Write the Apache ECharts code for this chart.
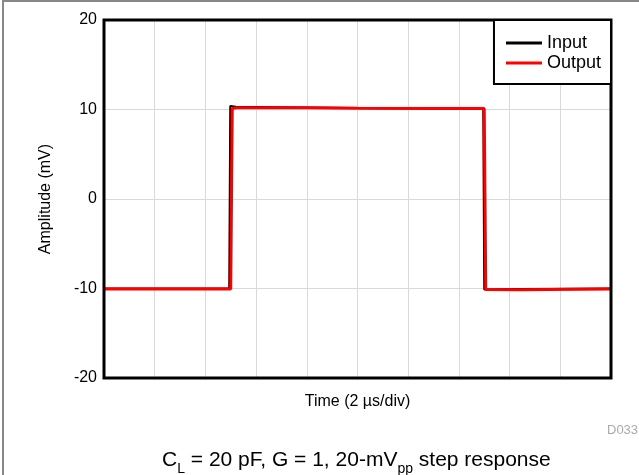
<!DOCTYPE html>
<html>
<head>
<meta charset="utf-8">
<script src="https://cdn.jsdelivr.net/npm/echarts@6/dist/echarts.min.js"></script>
<style>
  html, body { margin: 0; padding: 0; background: #fff; }
  #main { width: 639px; height: 475px; }
</style>
</head>
<body>
<div id="main"></div>
<script>
// time in divisions (2 us/div), amplitude in mV
var inputData = [[0, -10], [2.47, -10], [2.49, 10.4], [2.6, 10.3], [3.5, 10.25], [4.5, 10.2], [5.5, 10.15], [6.5, 10.1], [7.48, 10.1], [7.5, -10.1], [8.2, -10.05], [10, -10]];
var outputData = [[0, -10.05], [2.5, -10.05], [2.53, 10.1], [2.6, 10.2], [4, 10.2], [5, 10.15], [6.5, 10.1], [7.5, 10.1], [7.53, -10.1], [8.2, -10.15], [10, -10.05]];
var yTicks = [-20, -10, 0, 10, 20];
var seriesNames = ['Input', 'Output'];

var myChart = echarts.init(document.getElementById('main'));
var font = '"Liberation Sans", Arial, Helvetica, sans-serif';

var option = {
    animation: false,
    textStyle: { fontFamily: font },
    grid: {
        left: 104, top: 20, right: 28, bottom: 97
    },
    legend: {
        data: seriesNames,
        orient: 'vertical',
        right: 28,
        top: 20,
        icon: 'rect',
        itemWidth: 36,
        itemHeight: 3,
        itemGap: 2,
        padding: [14, 10, 12, 12],
        borderColor: '#000',
        borderWidth: 2,
        backgroundColor: '#fff',
        z: 10,
        textStyle: { fontSize: 18, color: '#000', fontFamily: font }
    },
    xAxis: {
        type: 'value',
        min: 0, max: 10, interval: 1,
        name: 'Time (2 µs/div)',
        nameLocation: 'middle',
        nameGap: 16,
        nameTextStyle: { fontSize: 16, color: '#000' },
        axisLine: { show: false },
        axisTick: { show: false },
        axisLabel: { show: false },
        splitLine: { lineStyle: { color: '#d9d9d9', width: 1 } }
    },
    yAxis: {
        type: 'value',
        min: yTicks[0], max: yTicks[yTicks.length - 1], interval: 10,
        name: 'Amplitude (mV)',
        nameLocation: 'middle',
        nameGap: 50,
        nameTextStyle: { fontSize: 16, color: '#000' },
        axisLine: { show: false },
        axisTick: { show: false },
        axisLabel: { fontSize: 16, color: '#000', margin: 7 },
        splitLine: { lineStyle: { color: '#d9d9d9', width: 1 } }
    },
    series: [
        {
            name: 'Input',
            type: 'line',
            data: inputData,
            showSymbol: false,
            color: '#000',
            lineStyle: { color: '#000', width: 2 }
        },
        {
            name: 'Output',
            type: 'line',
            data: outputData,
            showSymbol: false,
            color: '#ff0000',
            lineStyle: { color: '#ff0000', width: 3 }
        }
    ],
    graphic: [
        {
            type: 'rect',
            shape: { x: 3, y: 1, width: 700, height: 600 },
            style: { fill: 'none', stroke: '#888', lineWidth: 2 },
            silent: true
        },
        {
            type: 'rect',
            shape: { x: 104, y: 20, width: 507, height: 358 },
            style: { fill: 'none', stroke: '#000', lineWidth: 3 },
            z: 5,
            silent: true
        },
        {
            type: 'text',
            left: 607,
            top: 424,
            style: { text: 'D033', fill: '#aaa', fontSize: 13, fontFamily: font }
        },
        {
            type: 'text',
            left: 162,
            top: 450,
            style: {
                text: '{n|C}{s|L}{n| = 20 pF, G = 1, 20-mV}{s|pp}{n| step response}',
                fill: '#000',
                fontFamily: font,
                rich: {
                    n: { fontSize: 21, fontFamily: font, fill: '#000', verticalAlign: 'bottom' },
                    s: { fontSize: 14, fontFamily: font, fill: '#000', verticalAlign: 'bottom', padding: [0, 0, -5, 0] }
                }
            }
        }
    ]
};

myChart.setOption(option);
window.onresize = function () {
    myChart.resize();
};
</script>
</body>
</html>
